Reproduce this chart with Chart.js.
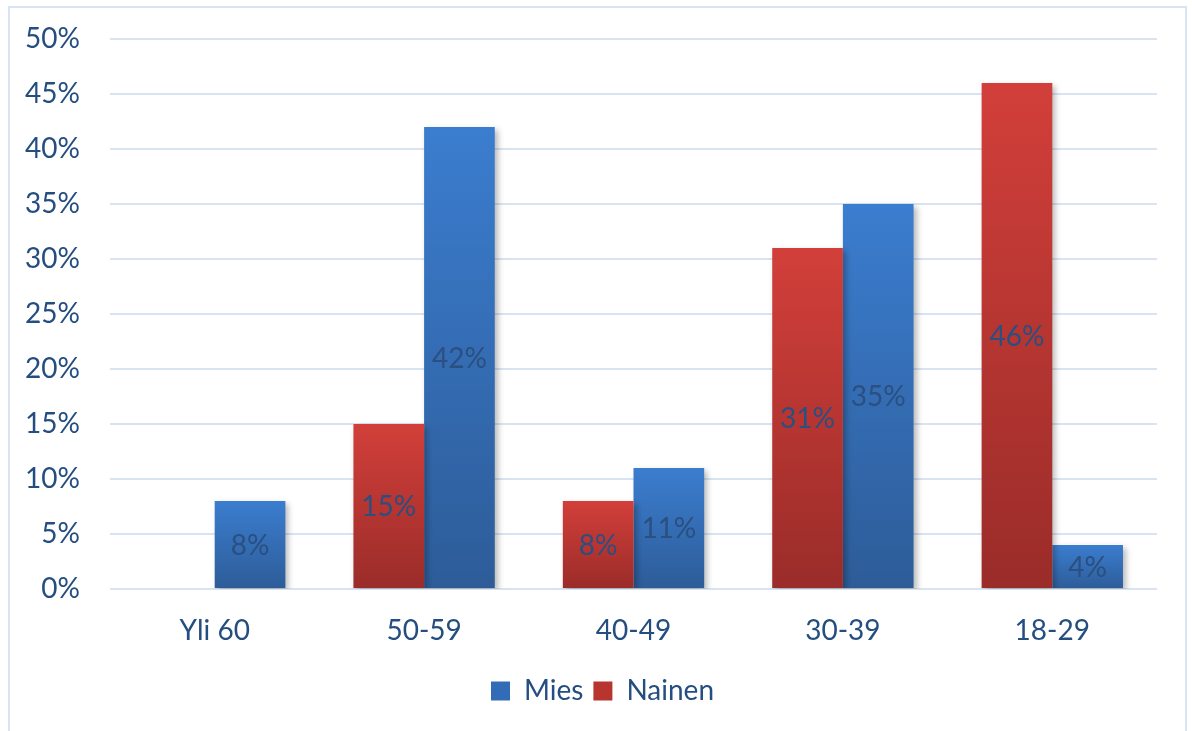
<!DOCTYPE html>
<html>
<head>
<meta charset="utf-8">
<script src="https://cdn.jsdelivr.net/npm/chart.js@4"></script>
<style>
    html, body { margin: 0; padding: 0; background: #fff; }
    #wrap { position: relative; width: 1192px; height: 731px; overflow: hidden; }
    #frame { position: absolute; left: 8px; top: 6px; width: 1175px; height: 760px; border: 2px solid #d8e4f4; }
    canvas { position: absolute; left: 0; top: 0; }
</style>
</head>
<body>
<div id="wrap">
    <div id="frame"></div>
    <canvas id="chart" width="1192" height="731"></canvas>
</div>
<script>
const categories = ['Yli 60', '50-59', '40-49', '30-39', '18-29'];
const nainen = [null, 15, 8, 31, 46];
const mies = [8, 42, 11, 35, 4];
const yTicks = [0, 5, 10, 15, 20, 25, 30, 35, 40, 45, 50];

const textColor = '#254e80';
const fontFamily = 'Lato, "Open Sans", sans-serif';

// per-bar vertical gradient, like the Office fill
function barGradient(top, bottom) {
    return function(ctx) {
        const chart = ctx.chart;
        if (!chart.chartArea || ctx.type !== 'data' || ctx.raw == null) return top;
        const y = chart.scales.y;
        const y0 = y.getPixelForValue(ctx.raw);
        const y1 = y.getPixelForValue(0);
        const g = chart.ctx.createLinearGradient(0, y0, 0, y1);
        g.addColorStop(0, top);
        g.addColorStop(1, bottom);
        return g;
    };
}

const shadowPlugin = {
    id: 'barShadow',
    beforeDatasetsDraw(chart) {
        const c = chart.ctx;
        c.save();
        c.shadowColor = 'rgba(0,0,0,0.28)';
        c.shadowBlur = 6;
        c.shadowOffsetX = 3;
        c.shadowOffsetY = 3;
    },
    afterDatasetsDraw(chart) {
        chart.ctx.restore();
    }
};

const valueLabels = {
    id: 'valueLabels',
    afterDatasetsDraw(chart) {
        const c = chart.ctx;
        c.save();
        c.font = '28px ' + fontFamily;
        c.fillStyle = '#2a4f80';
        c.textAlign = 'center';
        c.textBaseline = 'middle';
        chart.data.datasets.forEach((ds, i) => {
            chart.getDatasetMeta(i).data.forEach((bar, j) => {
                const v = ds.data[j];
                if (v == null) return;
                c.fillText(v + '%', bar.x, (bar.y + bar.base) / 2 + 1);
            });
        });
        c.restore();
    }
};

// nudge the legend a little right, as in the original
const legendShift = {
    id: 'legendShift',
    afterLayout(chart) {
        const lg = chart.legend;
        if (!lg || lg._shifted) return;
        lg.left += 14;
        lg.right += 14;
        lg._shifted = true;
    }
};

new Chart(document.getElementById('chart').getContext('2d'), {
    type: 'bar',
    data: {
        labels: categories,
        datasets: [
            {
                label: 'Nainen',
                data: nainen,
                backgroundColor: barGradient('#d23f3a', '#9a2c29'),
                borderWidth: 0
            },
            {
                label: 'Mies',
                data: mies,
                backgroundColor: barGradient('#3b7dcf', '#2d5c98'),
                borderWidth: 0
            }
        ]
    },
    options: {
        responsive: false,
        animation: false,
        devicePixelRatio: 1,
        layout: { padding: { left: 20, right: 35, top: 39, bottom: 16 } },
        datasets: { bar: { barPercentage: 1, categoryPercentage: 0.675 } },
        plugins: {
            tooltip: { enabled: false },
            legend: {
                position: 'bottom',
                reverse: true,
                labels: {
                    color: textColor,
                    font: { family: fontFamily, size: 28 },
                    boxWidth: 19,
                    boxHeight: 19,
                    padding: 10,
                    generateLabels(chart) {
                        const cols = { Nainen: '#b8342f', Mies: '#336cb6' };
                        return chart.data.datasets.map((ds, i) => ({
                            text: ds.label,
                            fillStyle: cols[ds.label],
                            strokeStyle: cols[ds.label],
                            lineWidth: 0,
                            fontColor: textColor,
                            datasetIndex: i,
                            hidden: false
                        }));
                    }
                }
            }
        },
        scales: {
            x: {
                grid: { display: false, drawTicks: false },
                border: { display: false },
                ticks: { color: textColor, font: { family: fontFamily, size: 28 }, padding: 25 },
                afterFit(scale) { scale.height = 78; }
            },
            y: {
                min: 0,
                max: 50,
                afterBuildTicks(scale) { scale.ticks = yTicks.map(v => ({ value: v })); },
                grid: { color: '#d9e4f3', lineWidth: 2, drawTicks: false },
                border: { display: false },
                ticks: {
                    color: textColor,
                    font: { family: fontFamily, size: 28 },
                    padding: 30,
                    callback: v => v + '%'
                },
                afterFit(scale) {
                    scale.width = 90;
                    scale.paddingTop = 0;
                    scale.paddingBottom = 0;
                }
            }
        }
    },
    plugins: [shadowPlugin, valueLabels, legendShift]
});
</script>
</body>
</html>
